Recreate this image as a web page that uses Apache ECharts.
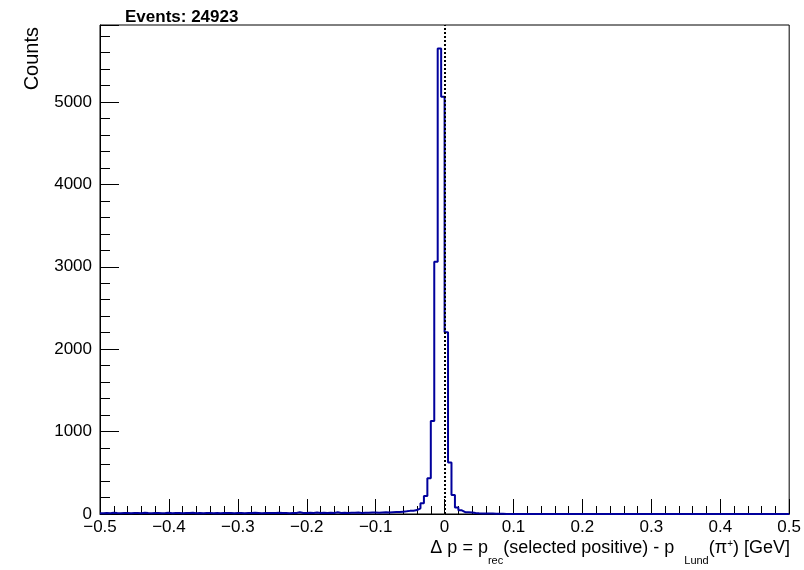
<!DOCTYPE html>
<html>
<head>
<meta charset="utf-8">
<title>Delta p histogram</title>
<script src="https://cdn.jsdelivr.net/npm/echarts@6/dist/echarts.min.js"></script>
<style>
  html, body { margin: 0; padding: 0; background: #fff; }
  #chart { width: 804px; height: 570px; }
</style>
</head>
<body>
<div id="chart"></div>
<script>
// histogram: 200 bins of 0.005 GeV from -0.5 to 0.5 (low edges)
const binLow = -0.5
const binWidth = 0.005
const counts = [
  // -0.500 .. -0.455
  10, 12, 9, 14, 11, 10, 13, 12, 8, 11,
  // -0.450 .. -0.405
  12, 10, 14, 11, 9, 13, 12, 10, 11, 14,
  // -0.400 .. -0.355
  9, 12, 13, 10, 12, 11, 14, 10, 12, 9,
  // -0.350 .. -0.305
  11, 13, 10, 12, 9, 12, 11, 13, 10, 12,
  // -0.300 .. -0.255
  13, 10, 12, 11, 14, 12, 10, 13, 11, 12,
  // -0.250 .. -0.205
  12, 14, 11, 13, 10, 12, 13, 20, 13, 12,
  // -0.200 .. -0.155
  14, 12, 19, 11, 15, 12, 14, 13, 20, 12,
  // -0.150 .. -0.105
  15, 13, 15, 14, 17, 13, 16, 15, 17, 18,
  // -0.100 .. -0.055
  16, 18, 20, 18, 22, 25, 24, 28, 32, 38,
  // -0.050 .. -0.005
  40, 48, 69, 130, 218, 433, 1130, 3060, 5650, 5064,
  // 0.000 .. 0.045
  2205, 625, 230, 80, 45, 22, 20, 18, 12, 8,
  // 0.050 .. 0.095
  7, 6, 5, 6, 4, 3, 2, 1, 1, 0,
  // 0.100 .. 0.495
  1, 0, 0, 1, 0, 0, 0, 1, 0, 0,
  0, 0, 1, 0, 0, 0, 0, 0, 1, 0,
  0, 0, 0, 0, 0, 1, 0, 0, 0, 0,
  0, 1, 0, 0, 0, 0, 0, 0, 0, 0,
  0, 0, 0, 1, 0, 0, 0, 0, 0, 0,
  0, 0, 0, 0, 0, 0, 1, 0, 0, 0,
  0, 0, 0, 0, 0, 0, 0, 0, 0, 0,
  0, 0, 1, 0, 0, 0, 0, 0, 0, 0
]
const xTicks = [-0.5, -0.4, -0.3, -0.2, -0.1, 0, 0.1, 0.2, 0.3, 0.4, 0.5]
const yMax = 5934
const eventsText = 'Events: 24923'

const font = "'Liberation Sans', Arial, Helvetica, sans-serif"
const histColor = '#00009c'

// step line points at bin low edges, closing point at the upper edge
const histData = counts.map((c, i) => [+(binLow + i * binWidth).toFixed(3), c])
histData.push([+(binLow + counts.length * binWidth).toFixed(3), counts[counts.length - 1]])

const chart = echarts.init(document.getElementById('chart'), null, { renderer: 'canvas' })

const option = {
  animation: false,
  backgroundColor: '#fff',
  title: {
    text: eventsText,
    left: 120,
    top: 4,
    textStyle: { fontFamily: font, fontSize: 17, fontWeight: 'bold', color: '#000' }
  },
  grid: {
    left: 100, right: 12, top: 25, bottom: 56,
    show: true, borderColor: '#000', borderWidth: 1, backgroundColor: 'transparent'
  },
  xAxis: {
    type: 'value',
    min: xTicks[0],
    max: xTicks[xTicks.length - 1],
    interval: 0.1,
    axisLine: { onZero: false, lineStyle: { color: '#000', width: 1 } },
    axisTick: { inside: true, length: 15, lineStyle: { color: '#000' } },
    minorTick: { show: true, splitNumber: 5, length: 8, lineStyle: { color: '#000' } },
    splitLine: { show: false },
    axisLabel: {
      margin: 5,
      showMinLabel: true, showMaxLabel: true,
      fontFamily: font, fontSize: 17, color: '#000',
      formatter: v => {
        const s = (Math.round(v * 10) / 10).toString()
        return s.replace('-', '\u2212')
      }
    }
  },
  yAxis: {
    type: 'value',
    min: 0,
    max: yMax,
    interval: 1000,
    axisLine: { show: true, onZero: false, lineStyle: { color: '#000', width: 1 } },
    axisTick: { inside: true, length: 19, lineStyle: { color: '#000' } },
    minorTick: { show: true, splitNumber: 5, length: 10, lineStyle: { color: '#000' } },
    splitLine: { show: false },
    axisLabel: {
      margin: 8,
      showMaxLabel: false,
      fontFamily: font, fontSize: 17, color: '#000',
      formatter: v => (v % 1000 === 0 ? String(v) : '')
    }
  },
  graphic: [
    {
      type: 'text',
      left: 22,
      top: 27,
      rotation: Math.PI / 2,
      style: { text: 'Counts', font: '20px ' + font, fill: '#000' }
    },
    {
      type: 'text',
      right: 14,
      top: 539,
      style: {
        text: '{m|Δ p = p}{s|rec}{m|(selected positive) - p  }{s|Lund}{m|(π}{u|+}{m|) [GeV]}',
        fill: '#000',
        rich: {
          m: { fontFamily: font, fontSize: 18, verticalAlign: 'top', padding: [0, 0, 10, 0] },
          s: { fontFamily: font, fontSize: 11, verticalAlign: 'top', padding: [16, 0, 0, 0] },
          u: { fontFamily: font, fontSize: 10, verticalAlign: 'top', padding: [0, 0, 14, 0] }
        }
      }
    }
  ],
  series: [
    {
      type: 'line',
      step: 'end',
      data: histData,
      showSymbol: false,
      symbol: 'none',
      lineStyle: { color: histColor, width: 2 },
      itemStyle: { color: histColor },
      markLine: {
        silent: true,
        symbol: 'none',
        label: { show: false },
        lineStyle: { color: '#000', type: 'dotted', width: 2 },
        data: [{ xAxis: 0 }]
      }
    }
  ]
}

chart.setOption(option)
</script>
</body>
</html>
